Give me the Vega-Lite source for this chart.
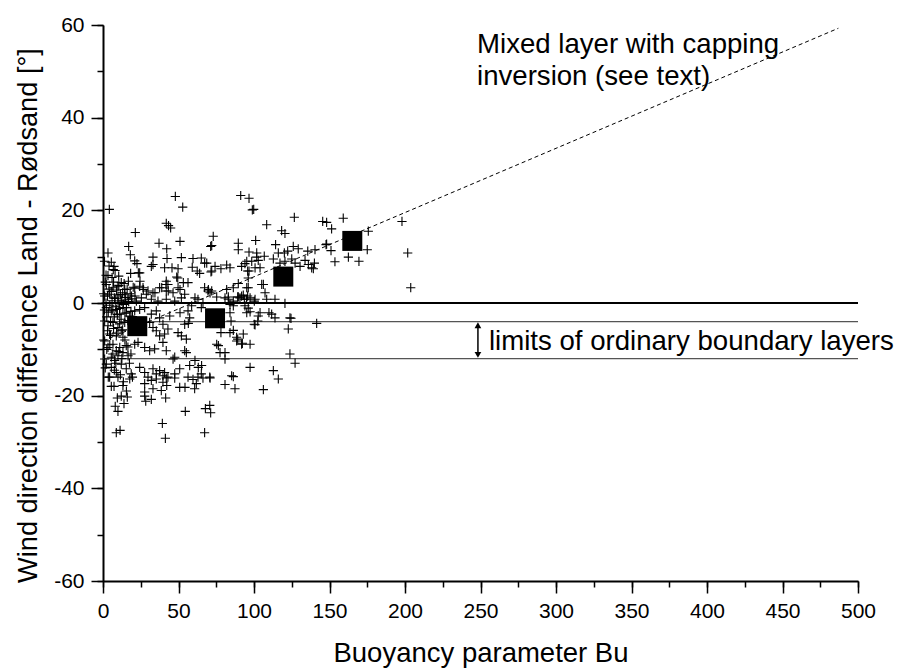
{
  "$schema": "https://vega.github.io/schema/vega-lite/v6.json",
  "width": 755,
  "height": 556,
  "autosize": {"type": "none"},
  "padding": {"left": 103, "top": 25, "right": 43, "bottom": 87},
  "background": "white",
  "config": {
    "view": {"stroke": null},
    "font": "Liberation Sans",
    "axis": {
      "grid": false,
      "domainColor": "black",
      "tickColor": "black",
      "labelColor": "black",
      "titleColor": "black",
      "labelFont": "Liberation Sans",
      "titleFont": "Liberation Sans",
      "titleFontWeight": "normal",
      "labelFlush": false,
      "labelOverlap": false
    }
  },
  "datasets": {
    "pts": [
      {"bu":47.9,"d":23.0},{"bu":4.2,"d":20.2},{"bu":52.8,"d":20.7},{"bu":41.9,"d":17.2},{"bu":43.4,"d":16.7},{"bu":44.8,"d":16.2},{"bu":21.4,"d":15.2},{"bu":37.1,"d":12.9},{"bu":51,"d":13.3},{"bu":17,"d":12.2},{"bu":42.2,"d":11.7},{"bu":3.3,"d":10.8},{"bu":18.1,"d":10.4},{"bu":71.3,"d":12.2},{"bu":33.1,"d":9.9},{"bu":42.4,"d":9.6},{"bu":51.9,"d":9.8},{"bu":59.6,"d":9.6},{"bu":65.1,"d":9.7},{"bu":5.5,"d":8.8},{"bu":21,"d":9.1},{"bu":22.5,"d":8.5},{"bu":33.1,"d":8.3},{"bu":32,"d":7.9},{"bu":67.3,"d":8.6},{"bu":7.3,"d":7.9},{"bu":24.3,"d":6.5},{"bu":18.3,"d":6.4},{"bu":40.8,"d":7.6},{"bu":45.7,"d":7.6},{"bu":49.7,"d":7.4},{"bu":59.1,"d":7.7},{"bu":62.4,"d":6.9},{"bu":64,"d":6.4},{"bu":3.3,"d":5.9},{"bu":10.4,"d":5.8},{"bu":48.8,"d":5.6},{"bu":41.9,"d":4.7},
      {"bu":91.2,"d":23.2},{"bu":96.7,"d":22.6},{"bu":98.9,"d":20.1},{"bu":73,"d":14.4},{"bu":72,"d":12.4},{"bu":89.6,"d":12.9},{"bu":89.6,"d":11.5},{"bu":96.7,"d":11},{"bu":74.2,"d":7.9},{"bu":78.1,"d":7.4},{"bu":81.9,"d":8.2},{"bu":84.1,"d":7.6},{"bu":72,"d":6.9},{"bu":91.8,"d":7.9},{"bu":95.2,"d":9},{"bu":96.7,"d":6.9},{"bu":6.8,"d":7.2},{"bu":16.8,"d":4.7},{"bu":23.4,"d":6.5},{"bu":24.5,"d":4.7},{"bu":41.7,"d":4},{"bu":49.5,"d":5.4},{"bu":53.2,"d":4.4},{"bu":38.9,"d":3.3},{"bu":43.2,"d":2.6},{"bu":51,"d":2.9},{"bu":26.7,"d":2.9},{"bu":34.4,"d":2.2},{"bu":21.2,"d":1.5},{"bu":69.8,"d":2.9},{"bu":72,"d":2.6},{"bu":81.9,"d":2.9},{"bu":86.3,"d":3.3},{"bu":95.2,"d":3.3},{"bu":96.2,"d":5.4},{"bu":60.9,"d":1.1},{"bu":83,"d":1.3},{"bu":89.6,"d":1.3},{"bu":92.9,"d":1.7},
      {"bu":99.8,"d":20.2},{"bu":108.4,"d":16.9},{"bu":126.7,"d":18.5},{"bu":118.3,"d":15.6},{"bu":120.5,"d":15},{"bu":101.1,"d":13.5},{"bu":114.3,"d":12.6},{"bu":101.8,"d":10.8},{"bu":101.8,"d":9.9},{"bu":106.8,"d":10.1},{"bu":116.1,"d":10.8},{"bu":120.1,"d":10.8},{"bu":122.3,"d":11.2},{"bu":126,"d":12.2},{"bu":129.3,"d":11.7},{"bu":135.6,"d":11.2},{"bu":140.4,"d":11.5},{"bu":112.8,"d":9.5},{"bu":117.2,"d":8.6},{"bu":120.5,"d":9},{"bu":125,"d":9.5},{"bu":127.2,"d":8.6},{"bu":130.5,"d":7.9},{"bu":133.8,"d":9.2},{"bu":136,"d":8.3},{"bu":138.2,"d":7.6},{"bu":94,"d":8.5},{"bu":98.5,"d":9},{"bu":102.8,"d":9.2},{"bu":68.7,"d":8.6},{"bu":71.5,"d":6.7},{"bu":95.8,"d":6.9},{"bu":100.7,"d":7.6},{"bu":104,"d":7.6},{"bu":140,"d":8.6},{"bu":139.3,"d":7.4},{"bu":89.6,"d":4.2},{"bu":106.2,"d":4},
      {"bu":145.5,"d":17.6},{"bu":148.1,"d":17.4},{"bu":159.1,"d":18.3},{"bu":151.4,"d":16},{"bu":175.7,"d":15.5},{"bu":175,"d":11.5},{"bu":169.5,"d":9},{"bu":162.5,"d":9.9},{"bu":153.6,"d":8.9},{"bu":147.7,"d":12.6},{"bu":151,"d":11.3},{"bu":148.1,"d":12.7},{"bu":198,"d":17.6},{"bu":201.8,"d":10.8},{"bu":203.8,"d":3.3},{"bu":141.5,"d":-4.4},
      {"bu":105.1,"d":4},{"bu":107.3,"d":2.2},{"bu":108.4,"d":0.8},{"bu":97.4,"d":1.1},{"bu":90.7,"d":1.1},{"bu":95.1,"d":0.8},{"bu":100.7,"d":0.8},{"bu":86.3,"d":0.4},{"bu":113.9,"d":0.8},{"bu":120.5,"d":-0.1},{"bu":123.8,"d":-3.2},{"bu":122.7,"d":-5.6},{"bu":102.8,"d":-2.8},{"bu":104,"d":-2.1},{"bu":100.7,"d":-4.7},{"bu":111.7,"d":-2.4},{"bu":113.9,"d":-3.2},{"bu":92.9,"d":-6.7},{"bu":88.5,"d":-7.4},{"bu":88.5,"d":-8.2},{"bu":91.8,"d":-8.9},{"bu":123.8,"d":-11},{"bu":127.2,"d":-13},{"bu":97.4,"d":-13.9},
      {"bu":96.2,"d":3.3},{"bu":95.8,"d":1.5},{"bu":89.2,"d":1.3},{"bu":91.8,"d":1.5},{"bu":93.6,"d":0.8},{"bu":100.2,"d":0.4},{"bu":83,"d":0.8},{"bu":84.1,"d":-0.3},{"bu":86.3,"d":-0.6},{"bu":75.3,"d":1.3},{"bu":80.8,"d":1.1},{"bu":70.9,"d":2.2},{"bu":94,"d":-0.6},{"bu":96.2,"d":-1.1},{"bu":95.2,"d":-2.1},{"bu":97.4,"d":-1.9},{"bu":102.5,"d":-3.9},{"bu":100.2,"d":-4.6},{"bu":109.9,"d":-2.1},{"bu":124.5,"d":-3.3},{"bu":84.8,"d":-3.9},{"bu":84.1,"d":-2.1},{"bu":78.1,"d":-6.4},{"bu":84.1,"d":-6.4},{"bu":86.3,"d":-5.9},{"bu":89.2,"d":-7.8},{"bu":92.3,"d":-8.7},{"bu":75.3,"d":-8.9},{"bu":76.4,"d":-9.2},{"bu":77.5,"d":-10.7},{"bu":80.8,"d":-10.7},{"bu":80.8,"d":-12.1},{"bu":112.8,"d":-14.6},{"bu":116.1,"d":-16.4},{"bu":70.9,"d":-16.2},{"bu":86.3,"d":-15.9},{"bu":80.8,"d":-17.6},{"bu":87.4,"d":-18.5},{"bu":106.2,"d":-18.7},
      {"bu":7.3,"d":-18},{"bu":13.2,"d":-17.8},{"bu":27.6,"d":-17.4},{"bu":32,"d":-16.7},{"bu":35.3,"d":-16.4},{"bu":39.7,"d":-17.1},{"bu":41.9,"d":-16.2},{"bu":47.5,"d":-16.2},{"bu":33.1,"d":-18.5},{"bu":38.6,"d":-18.9},{"bu":9.5,"d":-20.5},{"bu":12.1,"d":-20.1},{"bu":16.1,"d":-20.3},{"bu":8.1,"d":-22.3},{"bu":9.9,"d":-23.4},{"bu":13.9,"d":-21.7},{"bu":27.6,"d":-19.2},{"bu":27.6,"d":-20.1},{"bu":28.3,"d":-21.2},{"bu":32,"d":-20.8},{"bu":41.5,"d":-20.5},{"bu":50.8,"d":-18.2},{"bu":54.5,"d":-23.4},{"bu":39.3,"d":-26},{"bu":41.3,"d":-29.2},{"bu":8.8,"d":-28},{"bu":11.3,"d":-27.5},{"bu":56.3,"d":-16},{"bu":59.6,"d":-16.5},{"bu":61.8,"d":-17.4},{"bu":60.7,"d":-18.5},{"bu":66.2,"d":-16.2},{"bu":70.7,"d":-16},{"bu":67.8,"d":-22.8},{"bu":70.7,"d":-22.1},{"bu":71.3,"d":-23.7},{"bu":67.3,"d":-28},{"bu":85.2,"d":-15.7},
      {"bu":2.2,"d":4},{"bu":6.6,"d":3.3},{"bu":9.9,"d":3.6},{"bu":12.1,"d":4.4},{"bu":14.4,"d":2.9},{"bu":21,"d":3.2},{"bu":24.3,"d":3.6},{"bu":26.5,"d":3.3},{"bu":29.8,"d":2.6},{"bu":33.1,"d":2.2},{"bu":37.5,"d":3.3},{"bu":43,"d":4},{"bu":41.9,"d":2.6},{"bu":46.4,"d":2.2},{"bu":49.7,"d":3.3},{"bu":54.1,"d":1.9},{"bu":56.3,"d":4.4},{"bu":67.3,"d":3.3},{"bu":69.5,"d":2.6},
      {"bu":1.1,"d":1.5},{"bu":4.4,"d":1.9},{"bu":7.7,"d":1.1},{"bu":9.9,"d":1.5},{"bu":12.1,"d":0.4},{"bu":14.4,"d":1.9},{"bu":16.6,"d":0.8},{"bu":18.8,"d":1.5},{"bu":22.1,"d":0.4},{"bu":25.4,"d":1.1},{"bu":28.7,"d":1.9},{"bu":32,"d":0.8},{"bu":36.4,"d":0.4},{"bu":41.9,"d":0.8},{"bu":47.5,"d":0.4},{"bu":51.9,"d":1.1},{"bu":62.9,"d":0.8},{"bu":66.2,"d":0.1},
      {"bu":2.2,"d":-1},{"bu":5.5,"d":-1.7},{"bu":8.8,"d":-1.4},{"bu":11.1,"d":-2.4},{"bu":13.2,"d":-1},{"bu":15.4,"d":-2.1},{"bu":17.7,"d":-2.8},{"bu":21,"d":-1.7},{"bu":24.3,"d":-1.4},{"bu":27.6,"d":-1},{"bu":32,"d":-2.4},{"bu":35.3,"d":-1.7},{"bu":37.5,"d":-3.2},{"bu":44.2,"d":-2.8},{"bu":56.3,"d":-1.7},{"bu":57.4,"d":-3.2},{"bu":65.1,"d":-1},
      {"bu":1.1,"d":-3.9},{"bu":3.3,"d":-4.9},{"bu":6.6,"d":-4.2},{"bu":9.9,"d":-5.3},{"bu":12.1,"d":-6},{"bu":14.4,"d":-4.2},{"bu":4.4,"d":-6.7},{"bu":8.8,"d":-7.1},{"bu":13.2,"d":-7.4},{"bu":30.9,"d":-4.2},{"bu":33.1,"d":-5.3},{"bu":35.3,"d":-6},{"bu":39.7,"d":-4.6},{"bu":43,"d":-5.6},{"bu":49.7,"d":-6.4},{"bu":54.1,"d":-4.6},{"bu":51.9,"d":-7.1},{"bu":55.2,"d":-7.8},{"bu":37.5,"d":-7.1},{"bu":40.8,"d":-6.7},
      {"bu":1.1,"d":-8.2},{"bu":3.3,"d":-9.6},{"bu":6.6,"d":-8.9},{"bu":8.8,"d":-10.3},{"bu":11.1,"d":-9.6},{"bu":13.2,"d":-10.7},{"bu":15.4,"d":-9.2},{"bu":16.6,"d":-11.4},{"bu":5.5,"d":-11.7},{"bu":21,"d":-8.9},{"bu":23.2,"d":-8.5},{"bu":27.6,"d":-9.6},{"bu":30.9,"d":-10.3},{"bu":34.2,"d":-9.9},{"bu":39.7,"d":-8.5},{"bu":41.9,"d":-10.3},{"bu":46.4,"d":-12.1},{"bu":47.5,"d":-11.7},{"bu":54.1,"d":-10.3},{"bu":55.2,"d":-10.7},{"bu":1.1,"d":-12.1},{"bu":7.7,"d":-12.4},{"bu":9.9,"d":-11.4},
      {"bu":2.2,"d":-13.2},{"bu":5.5,"d":-13.9},{"bu":8.8,"d":-15},{"bu":12.1,"d":-13.2},{"bu":15.4,"d":-14.2},{"bu":18.7,"d":-15.3},{"bu":9.9,"d":-16},{"bu":24.3,"d":-13.9},{"bu":27.6,"d":-15},{"bu":29.8,"d":-16},{"bu":33.1,"d":-14.2},{"bu":35.3,"d":-15.3},{"bu":37.5,"d":-14.6},{"bu":39.7,"d":-15.7},{"bu":40.8,"d":-15},{"bu":43,"d":-16},{"bu":47.5,"d":-15.3},{"bu":50.8,"d":-14.2},{"bu":57.4,"d":-13.5},{"bu":62.9,"d":-16},{"bu":65.1,"d":-15.3},{"bu":4.4,"d":-16},{"bu":17.7,"d":-16.4},
      {"bu":97.4,"d":-8.9},{"bu":56.5,"d":-4.4},{"bu":51,"d":-2.1},{"bu":58.7,"d":-0.6},{"bu":60.9,"d":-12.4},{"bu":63.1,"d":-13.9},{"bu":65.3,"d":-13.5},{"bu":54.3,"d":-18.2},{"bu":42.2,"d":-17.8},
      {"bu":0.5,"d":2},{"bu":1,"d":-1.5},{"bu":1.5,"d":4.5},{"bu":2,"d":0},{"bu":2.5,"d":-3},{"bu":3,"d":1.5},{"bu":3.5,"d":-2},{"bu":4,"d":3},{"bu":4.5,"d":-0.5},{"bu":5,"d":-4},{"bu":5.5,"d":2.5},{"bu":6,"d":0.5},{"bu":6.5,"d":-1.5},{"bu":7,"d":4.5},{"bu":7.5,"d":-3},{"bu":8,"d":1},{"bu":8.5,"d":-0.8},{"bu":9,"d":2.8},{"bu":9.5,"d":-2.5},{"bu":10,"d":0},{"bu":10.5,"d":3.8},{"bu":11,"d":-1.2},{"bu":11.5,"d":1.8},{"bu":12,"d":-3.5},{"bu":12.5,"d":0.6},{"bu":13,"d":2.2},{"bu":13.5,"d":-0.3},{"bu":14,"d":4.2},{"bu":14.5,"d":-2.2},{"bu":15,"d":1.2},{"bu":15.5,"d":-1},{"bu":16,"d":3},{"bu":16.5,"d":-3.8},{"bu":17,"d":0.3},{"bu":18,"d":2},{"bu":18.5,"d":-1.8},{"bu":19,"d":0.9},{"bu":19.5,"d":-2.9},{"bu":20,"d":3.4},{"bu":2,"d":6},{"bu":4,"d":8},{"bu":6,"d":5.5},{"bu":8,"d":7},{"bu":1,"d":9},{"bu":3,"d":-6},{"bu":5,"d":-7},{"bu":7,"d":-5.5},{"bu":9,"d":-6.5},{"bu":11,"d":-4.5},{"bu":13,"d":-5.8},{"bu":0.5,"d":-8},{"bu":2.5,"d":-10},{"bu":4.5,"d":-9},{"bu":6.5,"d":-11},{"bu":8.5,"d":-13},{"bu":10.5,"d":-10.5},{"bu":12.5,"d":-12},{"bu":14.5,"d":-8},{"bu":16.5,"d":-9.5},{"bu":18.5,"d":-11},{"bu":1.5,"d":-14},{"bu":3.5,"d":-16},{"bu":5.5,"d":-18},{"bu":7.5,"d":-14.5},{"bu":11.5,"d":-15.5},{"bu":13.5,"d":-17},{"bu":15.5,"d":-19},{"bu":17.5,"d":-13},{"bu":19.5,"d":-16}
    ],
    "means": [{"bu":22.7,"d":-5.0},{"bu":74.2,"d":-3.3},{"bu":119.4,"d":5.7},{"bu":165.1,"d":13.4}],
    "zero": [{"d":0}],
    "lims": [{"d":-4},{"d":-12}],
    "fit": [{"bu":0,"d":-8.2},{"bu":487,"d":59.3}],
    "arrow": [{"bu":248.3,"lo":-4.6,"hi":-11.4}],
    "heads": [{"bu":248.3,"d":-4.8,"dir":"up"},{"bu":248.3,"d":-11.2,"dir":"down"}],
    "notes": [
      {"bu":247.7,"d":54.0,"t":"Mixed layer with capping"},
      {"bu":247.7,"d":47.1,"t":"inversion (see text)"},
      {"bu":255.6,"d":-10.1,"t":"limits of ordinary boundary layers"}
    ]
  },
  "layer": [
    {
      "data": {"name": "lims"},
      "mark": {"type": "rule", "color": "#555555", "strokeWidth": 1.3},
      "encoding": {"y": {"field": "d", "type": "quantitative", "scale": {"domain": [-60, 60], "nice": false, "zero": false}, "axis": null}}
    },
    {
      "data": {"name": "zero"},
      "mark": {"type": "rule", "color": "black", "strokeWidth": 2},
      "encoding": {"y": {"field": "d", "type": "quantitative", "axis": null}}
    },
    {
      "data": {"name": "fit"},
      "mark": {"type": "line", "color": "black", "strokeWidth": 1, "strokeDash": [4, 3]},
      "encoding": {
        "x": {"field": "bu", "type": "quantitative", "axis": null},
        "y": {"field": "d", "type": "quantitative", "axis": null}
      }
    },
    {
      "data": {"name": "pts"},
      "mark": {"type": "point", "shape": "M-1,0L1,0M0,-1L0,1", "size": 85, "filled": false, "stroke": "black", "strokeWidth": 1.1, "opacity": 1},
      "encoding": {
        "x": {"field": "bu", "type": "quantitative", "scale": {"domain": [0, 500], "nice": false, "zero": false},
          "axis": {"orient": "bottom", "values": [0, 50, 100, 150, 200, 250, 300, 350, 400, 450, 500], "tickSize": 12, "tickWidth": 1.5, "domainWidth": 2, "labelFontSize": 21, "labelPadding": 7, "title": "Buoyancy parameter Bu", "titleFontSize": 27.5, "titlePadding": 18}},
        "y": {"field": "d", "type": "quantitative",
          "axis": {"orient": "left", "values": [-60, -40, -20, 0, 20, 40, 60], "tickSize": 12, "tickWidth": 1.5, "domainWidth": 2, "labelFontSize": 21, "labelPadding": 7, "labelExpr": "datum.value < 0 ? '-' + abs(datum.value) : '' + datum.value", "title": "Wind direction difference Land - Rødsand [°]", "titleFontSize": 27.2, "titlePadding": 11, "titleY": 290}}
      }
    },
    {
      "data": {"name": "means"},
      "mark": {"type": "point", "shape": "square", "size": 400, "filled": true, "color": "black", "opacity": 1},
      "encoding": {
        "x": {"field": "bu", "type": "quantitative",
          "axis": {"orient": "bottom", "values": [0, 25, 50, 75, 100, 125, 150, 175, 200, 225, 250, 275, 300, 325, 350, 375, 400, 425, 450, 475, 500], "tickSize": 6, "tickWidth": 1.5, "domain": false, "labels": false, "title": null}},
        "y": {"field": "d", "type": "quantitative",
          "axis": {"orient": "left", "values": [-60, -50, -40, -30, -20, -10, 0, 10, 20, 30, 40, 50, 60], "tickSize": 6, "tickWidth": 1.5, "domain": false, "labels": false, "title": null}}
      }
    },
    {
      "data": {"name": "arrow"},
      "mark": {"type": "rule", "color": "black", "strokeWidth": 1.5},
      "encoding": {
        "x": {"field": "bu", "type": "quantitative", "axis": null},
        "y": {"field": "lo", "type": "quantitative", "axis": null},
        "y2": {"field": "hi"}
      }
    },
    {
      "data": {"name": "heads"},
      "mark": {"type": "point", "filled": true, "color": "black", "size": 45, "opacity": 1},
      "encoding": {
        "x": {"field": "bu", "type": "quantitative", "axis": null},
        "y": {"field": "d", "type": "quantitative", "axis": null},
        "shape": {"field": "dir", "type": "nominal", "scale": {"domain": ["up", "down"], "range": ["triangle-up", "triangle-down"]}, "legend": null}
      }
    },
    {
      "data": {"name": "notes"},
      "mark": {"type": "text", "align": "left", "baseline": "alphabetic", "fontSize": 27.6, "font": "Liberation Sans", "color": "black"},
      "encoding": {
        "x": {"field": "bu", "type": "quantitative", "axis": null},
        "y": {"field": "d", "type": "quantitative", "axis": null},
        "text": {"field": "t"}
      }
    }
  ],
  "resolve": {"axis": {"x": "independent", "y": "independent"}}
}
